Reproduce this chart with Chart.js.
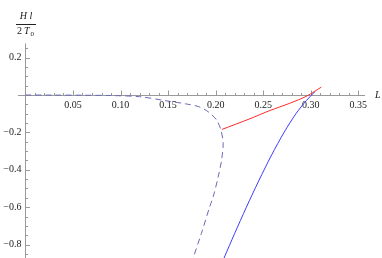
<!DOCTYPE html>
<html>
<head>
<meta charset="utf-8">
<script src="https://cdn.jsdelivr.net/npm/chart.js@4.4.0/dist/chart.umd.min.js"></script>
<style>
  html, body { margin: 0; padding: 0; background: #fff; }
  #wrap { width: 382px; height: 258px; position: relative; }
</style>
</head>
<body>
<div id="wrap"><canvas id="c"></canvas></div>
<script>
// curve data (L on x, H l / 2 T0 on y)
const dashedL = [0, 0.03, 0.06, 0.09, 0.12, 0.148, 0.168, 0.182, 0.192, 0.201, 0.2055, 0.2079, 0.2062, 0.2027, 0.1974, 0.1938, 0.185, 0.1763];
const dashedH = [0, -0.0005, -0.001, -0.003, -0.009, -0.031, -0.047, -0.062, -0.089, -0.134, -0.187, -0.258, -0.348, -0.437, -0.544, -0.597, -0.740, -0.872];

const redL = [0.2067, 0.236, 0.257, 0.278, 0.296, 0.311];
const redH = [-0.184, -0.127, -0.083, -0.044, -0.005, 0.042];

const blueL = [0.2088, 0.2200, 0.2323, 0.2452, 0.2589, 0.2719, 0.2844, 0.2953, 0.3044];
const blueH = [-0.872, -0.740, -0.600, -0.460, -0.320, -0.200, -0.100, -0.030, 0.018];

// axis ticks
const xTicks = [0.05, 0.10, 0.15, 0.20, 0.25, 0.30, 0.35];
const xTickLabels = ['0.05', '0.10', '0.15', '0.20', '0.25', '0.30', '0.35'];
const yTicks = [0.2, -0.2, -0.4, -0.6, -0.8];
const yTickLabels = ['0.2', '\u22120.2', '\u22120.4', '\u22120.6', '\u22120.8'];
const xMinorStep = 0.01;
const yMinorStep = 0.05;

const pts = (xs, ys) => xs.map((x, i) => ({ x: x, y: ys[i] }));

// draws Mathematica-like axes through the origin
const axesPlugin = {
  id: 'axes',
  beforeDatasetsDraw(chart) {
    const { ctx, chartArea: a, scales: { x, y } } = chart;
    const x0 = Math.round(x.getPixelForValue(0)) + 0.5;
    const y0 = Math.round(y.getPixelForValue(0)) + 0.5;
    ctx.save();
    ctx.strokeStyle = '#999';
    ctx.lineWidth = 1;
    ctx.beginPath();
    ctx.moveTo(a.left, y0); ctx.lineTo(a.right, y0);
    ctx.moveTo(x0, a.top); ctx.lineTo(x0, a.bottom);
    // x ticks (pointing up)
    for (let v = xMinorStep; v <= x.max + 1e-9; v += xMinorStep) {
      const major = Math.abs(v / 0.05 - Math.round(v / 0.05)) < 1e-6;
      const px = Math.round(x.getPixelForValue(v)) + 0.5;
      ctx.moveTo(px, y0); ctx.lineTo(px, y0 - (major ? 5 : 2.5));
    }
    // y ticks (pointing right)
    for (let v = -0.85; v <= y.max + 1e-9; v += yMinorStep) {
      if (Math.abs(v) < 1e-6) continue;
      const major = Math.abs(v / 0.2 - Math.round(v / 0.2)) < 1e-6;
      const py = Math.round(y.getPixelForValue(v)) + 0.5;
      ctx.moveTo(x0, py); ctx.lineTo(x0 + (major ? 4.5 : 2.5), py);
    }
    ctx.stroke();

    ctx.fillStyle = '#1a1a1a';
    ctx.font = '10px "Liberation Serif", serif';
    ctx.textAlign = 'center';
    ctx.textBaseline = 'middle';
    xTicks.forEach((v, i) => ctx.fillText(xTickLabels[i], x.getPixelForValue(v), y0 + 10));
    ctx.textAlign = 'right';
    yTicks.forEach((v, i) => ctx.fillText(yTickLabels[i], x0 - 4, y.getPixelForValue(v)));

    // axis labels
    ctx.font = 'italic 10px "Liberation Serif", serif';
    ctx.textAlign = 'left';
    ctx.fillText('L', 375, y0);
    ctx.textAlign = 'center';
    ctx.fillText('H l', 26, 16.5);
    ctx.beginPath();
    ctx.strokeStyle = '#222';
    ctx.moveTo(16, 24.5); ctx.lineTo(36, 24.5);
    ctx.stroke();
    ctx.textAlign = 'left';
    ctx.textBaseline = 'alphabetic';
    ctx.font = '10px "Liberation Serif", serif';
    ctx.fillText('2', 17, 34);
    ctx.font = 'italic 10px "Liberation Serif", serif';
    ctx.fillText('T', 24, 34);
    ctx.font = '7px "Liberation Serif", serif';
    ctx.fillText('0', 30.5, 36);
    ctx.restore();
  }
};

new Chart(document.getElementById('c'), {
  type: 'scatter',
  data: {
    datasets: [{
      data: pts(dashedL, dashedH),
      showLine: true,
      borderColor: '#6a6ab8',
      borderWidth: 1,
      borderDash: [6, 4],
      tension: 0.3,
      pointRadius: 0
    }, {
      data: pts(redL, redH),
      showLine: true,
      borderColor: '#ff2a2a',
      borderWidth: 1,
      tension: 0.3,
      pointRadius: 0
    }, {
      data: pts(blueL, blueH),
      showLine: true,
      borderColor: '#3c3cff',
      borderWidth: 1,
      tension: 0.3,
      pointRadius: 0
    }]
  },
  options: {
    responsive: true,
    maintainAspectRatio: false,
    animation: false,
    layout: { padding: { left: 18, right: 17, top: 43.5, bottom: 0 } },
    scales: {
      x: { type: 'linear', min: -0.0078, max: 0.357, display: false },
      y: { type: 'linear', min: -0.8717, max: 0.2754, display: false }
    },
    plugins: {
      legend: { display: false },
      tooltip: { enabled: false }
    }
  },
  plugins: [axesPlugin]
});
</script>
</body>
</html>
